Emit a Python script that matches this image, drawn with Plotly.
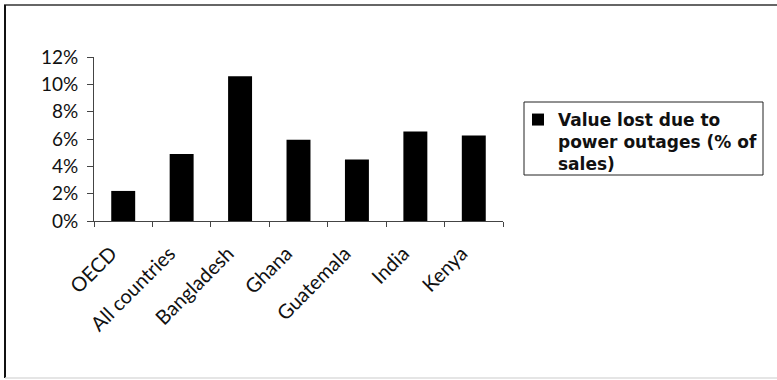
import plotly.graph_objects as go

# Share of sales lost to electrical outages, by economy
categories = ["OECD", "All countries", "Bangladesh", "Ghana", "Guatemala", "India", "Kenya"]
value_lost = [0.022, 0.049, 0.106, 0.0595, 0.045, 0.0655, 0.0625]
y_ticks = [0, 0.02, 0.04, 0.06, 0.08, 0.10, 0.12]
y_tick_labels = ["0%", "2%", "4%", "6%", "8%", "10%", "12%"]
series_name = "Value lost due to<br>power outages (% of<br>sales)"

W, H = 777, 380
L, R, T, B = 94, 274, 57, 159
plot_w = W - L - R
plot_h = H - T - B


def px_x(p):
    return (p - L) / plot_w


def px_y(p):
    return (H - B - p) / plot_h


fig = go.Figure()
fig.add_trace(go.Bar(
    x=categories,
    y=value_lost,
    name=series_name,
    marker=dict(color="#000000", line=dict(width=0)),
    width=0.41,
    showlegend=True,
))

axis_color = "#444444"
label_family = "Lato, Carlito, sans-serif"

fig.update_layout(
    width=W,
    height=H,
    autosize=False,
    margin=dict(l=L, r=R, t=T, b=B, pad=0),
    paper_bgcolor="white",
    plot_bgcolor="white",
    showlegend=True,
    legend=dict(
        x=px_x(518),
        y=px_y(102),
        xanchor="left",
        yanchor="top",
        bgcolor="rgba(0,0,0,0)",
        borderwidth=0,
        valign="top",
        font=dict(family="DejaVu Sans, sans-serif", size=17, color="#111111", weight="bold"),
    ),
    xaxis=dict(
        type="category",
        showline=True,
        linecolor=axis_color,
        linewidth=1,
        ticks="outside",
        tickson="boundaries",
        ticklen=5,
        tickcolor=axis_color,
        tickangle=-45,
        tickfont=dict(family=label_family, size=20, color="#111111"),
        ticklabelstandoff=12,
        ticklabelshift=-12,
        showgrid=False,
        zeroline=False,
    ),
    yaxis=dict(
        range=[0, 0.12],
        tickvals=y_ticks,
        ticktext=y_tick_labels,
        showline=True,
        linecolor=axis_color,
        linewidth=1,
        ticks="outside",
        ticklen=6,
        tickcolor=axis_color,
        tickfont=dict(family=label_family, size=19, color="#111111"),
        ticklabelstandoff=5,
        showgrid=False,
        zeroline=False,
    ),
    shapes=[
        # legend frame
        dict(type="rect", xref="paper", yref="paper",
             x0=px_x(524), x1=px_x(763), y0=px_y(102), y1=px_y(175),
             line=dict(color="#222222", width=1), fillcolor="rgba(0,0,0,0)"),
        # outer frame of the chart area
        dict(type="line", xref="paper", yref="paper",
             x0=px_x(4), x1=px_x(777), y0=px_y(5), y1=px_y(5),
             line=dict(color="#333333", width=1.5)),
        dict(type="line", xref="paper", yref="paper",
             x0=px_x(5), x1=px_x(5), y0=px_y(5), y1=px_y(378),
             line=dict(color="#111111", width=2)),
        dict(type="line", xref="paper", yref="paper",
             x0=px_x(5), x1=px_x(777), y0=px_y(378), y1=px_y(378),
             line=dict(color="#dddddd", width=1.5)),
    ],
)

fig.write_html("out.html")
